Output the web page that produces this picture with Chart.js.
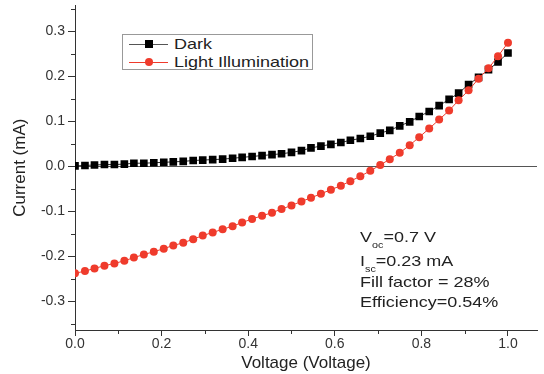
<!DOCTYPE html>
<html>
<head>
<meta charset="utf-8">
<script src="https://cdn.jsdelivr.net/npm/chart.js@4.4.1/dist/chart.umd.min.js"></script>
<style>
  html, body { margin: 0; padding: 0; background: #fff; }
  #wrap { position: relative; width: 544px; height: 374px; font-family: "Liberation Sans", Arial, sans-serif; color: #222; }
  #chart { position: absolute; left: 0; top: 0; }
  .box { position: absolute; left: 122px; top: 34px; width: 191px; height: 36px; border: 1px solid #999; box-sizing: border-box; background: #fff; }
  .ln { position: absolute; height: 1px; width: 39px; left: 129px; }
  .txt { position: absolute; font-size: 15px; line-height: 16px; white-space: nowrap; transform: scaleX(1.2); transform-origin: left center; }
  .sub { display: inline-block; font-size: 9px; transform: translateY(6px); }
</style>
</head>
<body>
<div id="wrap">
  <canvas id="chart" width="544" height="374"></canvas>

  <div class="box"></div>
  <div class="ln" style="top:44px;background:#555;"></div>
  <div style="position:absolute;left:145px;top:40px;width:8px;height:8px;background:#000;"></div>
  <div class="txt" style="left:174px;top:36px;">Dark</div>
  <div class="ln" style="top:62px;background:#ef3b2c;"></div>
  <div style="position:absolute;left:145px;top:58px;width:8px;height:8px;border-radius:50%;background:#ef3b2c;"></div>
  <div class="txt" style="left:174px;top:54px;">Light Illumination</div>

  <div class="txt" style="left:360px;top:229px;">V<span class="sub">oc</span>=0.7 V</div>
  <div class="txt" style="left:360px;top:253px;">I<span class="sub">sc</span>=0.23 mA</div>
  <div class="txt" style="left:360px;top:274px;">Fill factor = 28%</div>
  <div class="txt" style="left:360px;top:294px;">Efficiency=0.54%</div>
</div>

<script>
// voltage (V)
var voltage = [0, 0.023, 0.045, 0.068, 0.091, 0.114, 0.136, 0.159, 0.182, 0.205,
  0.227, 0.25, 0.273, 0.295, 0.318, 0.341, 0.364, 0.386, 0.409, 0.432,
  0.455, 0.477, 0.5, 0.523, 0.545, 0.568, 0.591, 0.614, 0.636, 0.659,
  0.682, 0.705, 0.727, 0.75, 0.773, 0.795, 0.818, 0.841, 0.864, 0.886,
  0.909, 0.932, 0.955, 0.977, 1.0];

// current (mA), dark
var darkCurrent = [0.001, 0.002, 0.003, 0.004, 0.004, 0.005, 0.007, 0.007, 0.008, 0.009,
  0.010, 0.011, 0.013, 0.014, 0.015, 0.016, 0.018, 0.020, 0.022, 0.024,
  0.026, 0.028, 0.031, 0.035, 0.041, 0.045, 0.049, 0.053, 0.058, 0.062,
  0.067, 0.074, 0.080, 0.090, 0.099, 0.111, 0.122, 0.135, 0.149, 0.163,
  0.182, 0.198, 0.215, 0.232, 0.252];

// current (mA), light illumination
var lightCurrent = [-0.238, -0.233, -0.227, -0.221, -0.216, -0.210, -0.203, -0.196, -0.190, -0.183,
  -0.176, -0.170, -0.162, -0.154, -0.147, -0.140, -0.133, -0.125, -0.117, -0.110,
  -0.103, -0.095, -0.087, -0.078, -0.070, -0.061, -0.052, -0.043, -0.033, -0.022,
  -0.010, 0.003, 0.016, 0.030, 0.047, 0.065, 0.084, 0.104, 0.124, 0.147,
  0.169, 0.195, 0.218, 0.245, 0.275];

// minor tick positions
var xMinor = [0.1, 0.3, 0.5, 0.7, 0.9];
var yMinor = [-0.35, -0.25, -0.15, -0.05, 0.05, 0.15, 0.25, 0.35];

function toPoints(ys) {
  return voltage.map(function (v, i) { return { x: v, y: ys[i] }; });
}

// small ticks between the labelled ones
var minorTicks = {
  id: 'minorTicks',
  afterDraw: function (chart) {
    var ctx = chart.ctx, x = chart.scales.x, y = chart.scales.y;
    ctx.save();
    ctx.strokeStyle = '#333';
    ctx.lineWidth = 1;
    ctx.beginPath();
    yMinor.forEach(function (v) {
      var p = Math.round(y.getPixelForValue(v)) + 0.5;
      ctx.moveTo(x.left - 4, p);
      ctx.lineTo(x.left, p);
    });
    xMinor.forEach(function (v) {
      var p = Math.round(x.getPixelForValue(v)) + 0.5;
      ctx.moveTo(p, y.bottom);
      ctx.lineTo(p, y.bottom + 4);
    });
    ctx.stroke();
    ctx.restore();
  }
};

function fmt(v) {
  return Math.abs(v) < 1e-9 ? '0.0' : v.toFixed(1);
}

var ctx = document.getElementById('chart').getContext('2d');

new Chart(ctx, {
  type: 'line',
  data: {
    datasets: [
      {
        label: 'Dark',
        data: toPoints(darkCurrent),
        borderColor: '#333',
        borderWidth: 1,
        backgroundColor: '#000',
        pointStyle: 'rect',
        pointRadius: 5.4,
        pointBorderWidth: 0,
        order: 1
      },
      {
        label: 'Light Illumination',
        data: toPoints(lightCurrent),
        borderColor: '#ef3b2c',
        borderWidth: 1,
        backgroundColor: '#ef3b2c',
        pointStyle: 'circle',
        pointRadius: 4,
        pointBorderWidth: 0,
        order: 0
      }
    ]
  },
  options: {
    responsive: false,
    animation: false,
    layout: { padding: { top: 5, right: 7, left: 0, bottom: 0 } },
    plugins: { legend: { display: false }, tooltip: { enabled: false } },
    scales: {
      x: {
        type: 'linear',
        min: 0,
        max: 1.067,
        afterFit: function (s) { s.height = 44; },
        border: { color: '#333', width: 1 },
        grid: { drawOnChartArea: false, tickLength: 6, tickColor: '#333' },
        ticks: {
          stepSize: 0.2,
          includeBounds: false,
          maxRotation: 0,
          padding: 0,
          color: '#333',
          font: { family: 'Liberation Sans', size: 14 },
          callback: fmt
        },
        title: {
          display: true,
          text: 'Voltage (Voltage)',
          color: '#222',
          padding: { top: 0, bottom: 0 },
          font: { family: 'Liberation Sans', size: 17 }
        }
      },
      y: {
        min: -0.364,
        max: 0.358,
        afterFit: function (s) { s.width = 75; s.paddingTop = 0; s.paddingBottom = 0; },
        border: { color: '#333', width: 1 },
        grid: {
          drawOnChartArea: true,
          tickLength: 7,
          tickColor: '#333',
          color: function (c) {
            return c.tick && Math.abs(c.tick.value) < 1e-9 ? '#555' : 'rgba(0,0,0,0)';
          }
        },
        ticks: {
          stepSize: 0.1,
          includeBounds: false,
          padding: 3,
          color: '#333',
          font: { family: 'Liberation Sans', size: 14 },
          callback: fmt
        },
        title: {
          display: true,
          text: 'Current (mA)',
          color: '#222',
          padding: { top: 10, bottom: 0 },
          font: { family: 'Liberation Sans', size: 17 }
        }
      }
    }
  },
  plugins: [minorTicks]
});
</script>
</body>
</html>
